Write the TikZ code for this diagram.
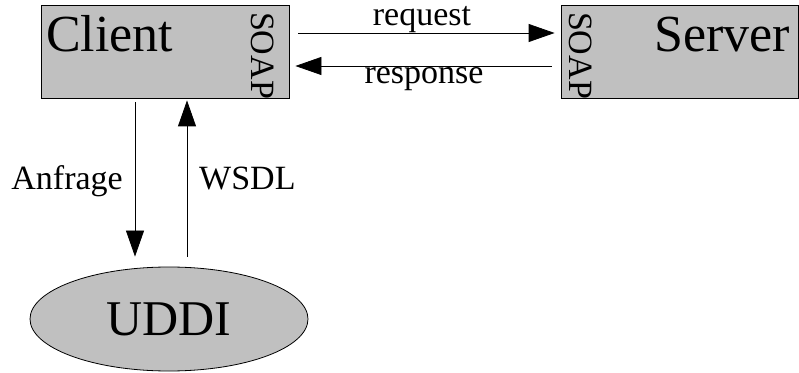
\documentclass[tikz,border=0pt]{standalone}
\usepackage{fontspec}
\setmainfont{Liberation Serif}
\usetikzlibrary{arrows.meta,shapes.geometric}
\definecolor{boxgray}{RGB}{192,192,192}
\tikzset{
  box/.style={draw=black, line width=0.8pt, fill=boxgray, inner sep=0pt},
  bigtext/.style={font=\fontsize{52}{60}\selectfont, inner sep=0pt},
  smalltext/.style={font=\fontsize{34}{40}\selectfont, inner sep=0pt},
  soap/.style={font=\fontsize{34}{40}\selectfont, inner sep=0pt, rotate=-90},
  arr/.style={line width=0.8pt, -{Triangle[length=26pt,width=18pt]}}
}
\begin{document}
\begin{tikzpicture}[x=1pt,y=1pt]
\useasboundingbox (0,0) rectangle (799,372);
% boxes
\node[box, minimum width=248pt, minimum height=93pt] (client) at (165,320.5) {};
\node[box, minimum width=237pt, minimum height=93pt] (server) at (679.5,320.5) {};
\node[bigtext, anchor=base west] (clienttxt) at (46,320) {Client};
\node[bigtext, anchor=base east] (servertxt) at (790,320) {Server};
\node[soap] (soapc) at (263,316.5) {SOAP};
\node[soap] (soaps) at (581,316.5) {SOAP};
% UDDI
\node[box, ellipse, minimum width=278pt, minimum height=104pt, font=\fontsize{50}{60}\selectfont] (uddi) at (169,53) {UDDI};
% horizontal arrows
\draw[arr] ([shift={(9,18.5)}]client.east) -- ([shift={(-6,18.5)}]server.west);
\draw[arr] ([shift={(-9,-14.5)}]server.west) -- ([shift={(6,-14.5)}]client.east);
\node[smalltext, anchor=base] (req) at (422,346) {request};
\node[smalltext, anchor=base] (resp) at (424,288) {response};
% vertical arrows
\draw[arr] ([shift={(-30,-4)}]client.south) -- ([shift={(-34,10)}]uddi.north);
\draw[arr] ([shift={(18,10)}]uddi.north) -- ([shift={(22,-2)}]client.south);
\node[smalltext, anchor=base east] (anf) at (123,182) {Anfrage};
\node[smalltext, anchor=base west] (wsdl) at (199,182) {WSDL};
\end{tikzpicture}
\end{document}
